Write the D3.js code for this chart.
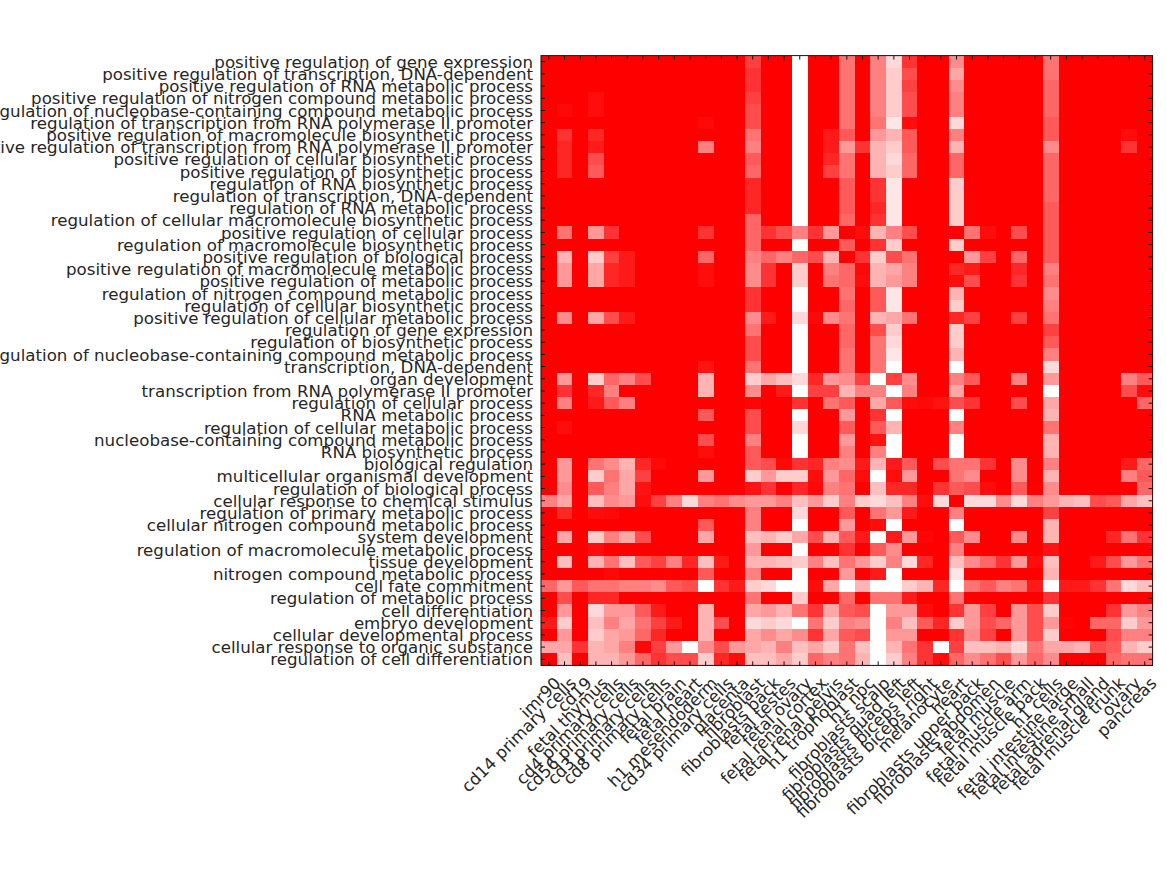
<!DOCTYPE html>
<html><head><meta charset="utf-8">
<script src="https://cdn.jsdelivr.net/npm/d3@7/dist/d3.min.js"></script>
<style>html,body{margin:0;padding:0;background:#fff;overflow:hidden}svg{display:block}
text{font-family:"DejaVu Sans";font-size:16.67px;fill:#262626}</style></head><body>
<svg id="c" width="1167" height="875"></svg>
<script>
const rowLabels=["positive regulation of gene expression","positive regulation of transcription, DNA-dependent","positive regulation of RNA metabolic process","positive regulation of nitrogen compound metabolic process","positive regulation of nucleobase-containing compound metabolic process","regulation of transcription from RNA polymerase II promoter","positive regulation of macromolecule biosynthetic process","positive regulation of transcription from RNA polymerase II promoter","positive regulation of cellular biosynthetic process","positive regulation of biosynthetic process","regulation of RNA biosynthetic process","regulation of transcription, DNA-dependent","regulation of RNA metabolic process","regulation of cellular macromolecule biosynthetic process","positive regulation of cellular process","regulation of macromolecule biosynthetic process","positive regulation of biological process","positive regulation of macromolecule metabolic process","positive regulation of metabolic process","regulation of nitrogen compound metabolic process","regulation of cellular biosynthetic process","positive regulation of cellular metabolic process","regulation of gene expression","regulation of biosynthetic process","regulation of nucleobase-containing compound metabolic process","transcription, DNA-dependent","organ development","transcription from RNA polymerase II promoter","regulation of cellular process","RNA metabolic process","regulation of cellular metabolic process","nucleobase-containing compound metabolic process","RNA biosynthetic process","biological regulation","multicellular organismal development","regulation of biological process","cellular response to chemical stimulus","regulation of primary metabolic process","cellular nitrogen compound metabolic process","system development","regulation of macromolecule metabolic process","tissue development","nitrogen compound metabolic process","cell fate commitment","regulation of metabolic process","cell differentiation","embryo development","cellular developmental process","cellular response to organic substance","regulation of cell differentiation"];
const colLabels=["imr90","cd14 primary cells","cd19","fetal thymus","cd4 primary cells","cd56 primary cells","cd3 primary cells","cd8 primary cells","fetal brain","fetal heart","h1 mesendoderm","cd34 primary cells","placenta","fibroblast","fibroblasts back","fetal testes","fetal ovary","fetal renal cortex","fetal renal pelvis","h1 trophoblast","h1 npc","fibroblasts scalp","fibroblasts quad left","fibroblasts biceps left","fibroblasts biceps right","melanocyte","heart","fibroblasts upper back","fibroblasts abdomen","fetal muscle","fetal muscle arm","fetal muscle back","h1 cells","fetal intestine large","fetal intestine small","fetal adrenal gland","fetal muscle trunk","ovary","pancreas"];
const values=[
[0,0,0,0,0,0,0,0,0,0,0,0,0,2.5,0,0,10,0,0,4.5,0,5,8.5,2,0,0,5.5,0,0,0,0,0,4.5,0,0,0,0,0,0],
[0,0,0,0,0,0,0,0,0,0,0,0,0,2,0,0,10,0,0,4.5,0,5,8,3,0,0,6.5,0,0,0,0,0,4.5,0,0,0,0,0,0],
[0,0,0,0,0,0,0,0,0,0,0,0,0,2,0,0,10,0,0,4.5,0,5,8,2.5,0,0,5.5,0,0,0,0,0,4,0,0,0,0,0,0],
[0,0,0,.5,0,0,0,0,0,0,0,0,0,2.5,0,0,10,0,0,4.5,0,5,8,3,0,0,5,0,0,0,0,0,4,0,0,0,0,0,0],
[0,.3,0,.5,0,0,0,0,0,0,0,0,0,3,0,0,10,0,0,4.5,0,5,8,3,0,0,5,0,0,0,0,0,4,0,0,0,0,0,0],
[0,0,0,0,0,0,0,0,0,0,.3,0,0,3,0,0,10,0,0,4.5,0,4.5,9,.5,0,0,8.5,0,0,0,0,0,3.5,0,0,0,0,0,0],
[0,2,0,1.5,0,0,0,0,0,0,0,0,0,4.5,0,0,10,0,1,3.5,0,6,7,3.5,0,0,5,0,0,0,0,0,3.5,0,0,0,0,.5,0],
[0,1.5,0,1,0,0,0,0,0,0,5,0,0,5,0,0,10,0,1,6,2,7,8,3.5,0,0,7,0,0,0,0,0,5.5,0,0,0,0,2,0],
[0,1.5,0,3,0,0,0,0,0,0,0,0,0,3.5,0,0,10,0,1.5,4.5,0,7,8.5,4,0,0,4,0,0,0,0,0,4,0,0,0,0,0,0],
[0,1.5,0,3.5,0,0,0,0,0,0,0,0,0,4,0,0,10,0,2.5,4.5,0,7,8,4,0,0,4,0,0,0,0,0,4,0,0,0,0,0,0],
[0,0,0,0,0,0,0,0,0,0,0,0,0,1.5,0,0,10,0,0,3.5,0,2,9,0,0,0,8,0,0,0,0,0,4,0,0,0,0,0,0],
[0,0,0,0,0,0,0,0,0,0,0,0,0,1.5,0,0,10,0,0,3.5,0,2,9,0,0,0,8,0,0,0,0,0,4,0,0,0,0,0,0],
[0,0,0,0,0,0,0,0,0,0,0,0,0,1.5,0,0,10,0,0,3.5,0,1.5,9,0,0,0,8,0,0,0,0,0,3.5,0,0,0,0,0,0],
[0,0,0,0,0,0,0,0,0,0,0,0,0,4,0,0,10,0,0,4,0,2,9,0,0,0,8,0,0,0,0,0,3.5,0,0,0,0,0,0],
[0,4.5,0,6,2,0,0,0,0,0,2,0,0,4,2,3,5,2,6,0,.5,7,5,3,0,0,0,4.5,.5,0,3,0,3.5,0,0,0,0,0,0],
[0,0,0,0,0,0,0,0,0,0,0,0,0,4,0,0,10,0,0,3.5,0,2,8,0,0,0,8,0,0,0,0,0,3.5,0,0,0,0,0,0],
[0,7,0,8,2.5,1,0,0,0,0,4,0,0,5,4,5,4,3,7,0,2,8,3,4.5,0,0,0,6,2.5,0,4,0,3.5,0,0,0,0,0,0],
[0,6,0,6.5,1.5,1,0,0,0,0,.5,0,0,5.5,2,0,8,0,5,4,.3,7,6.5,5,0,0,1.5,1,0,0,1.5,0,5,0,0,0,0,0,0],
[0,6,0,6.5,1.5,1,0,0,0,0,.5,0,0,5.5,2,0,8,0,4.5,4,.5,7,6,5,0,0,.5,3,0,0,2,0,4.5,0,0,0,0,0,0],
[0,0,0,0,0,0,0,0,0,0,0,0,0,2,0,0,10,0,0,4.5,0,3.5,9,0,0,0,7,0,0,0,0,0,5.5,0,0,0,0,0,0],
[0,0,0,0,0,0,0,0,0,0,0,0,0,2,0,0,10,0,0,4,0,3.5,9,0,0,0,8,0,0,0,0,0,5,0,0,0,0,0,0],
[0,5.5,0,6.5,3,1,0,0,0,0,0,0,0,5.5,1,0,8.5,.3,5.5,4.5,0,7,6.5,4.5,0,0,1.5,2.5,0,0,2.5,0,4.5,0,0,0,0,0,0],
[0,0,0,0,0,0,0,0,0,0,0,0,0,4.5,0,0,10,0,0,4,0,3,8,0,0,0,8,0,0,0,0,0,2.5,0,0,0,0,0,0],
[0,0,0,0,0,0,0,0,0,0,0,0,0,3,0,0,10,0,0,4,0,4.5,8.5,0,0,0,8,0,0,0,0,0,3.5,0,0,0,0,0,0],
[0,0,0,0,0,0,0,0,0,0,0,0,0,3,0,0,10,0,0,4.5,0,4.5,9,0,0,0,7,0,0,0,0,0,5,0,0,0,0,0,0],
[0,0,0,0,0,0,0,0,0,0,.8,0,0,4.5,0,0,10,0,0,4.5,0,4.5,10,0,0,0,10,0,0,0,0,0,8.5,0,0,0,0,0,0],
[0,6,0,8,4,5,3,0,0,0,7,0,0,8,6.5,7.5,8.5,1.5,6,5.5,2.5,10,2.5,5.5,0,0,5,3.5,0,0,5,0,6,0,0,0,0,5,3.5],
[0,2,0,1.5,5,0,0,0,0,0,7,0,0,5.5,0,1,10,2.5,2.5,7,5,5,10,5,0,0,6.5,0,0,0,0,0,10,0,0,0,0,3,.5],
[0,5,0,1,3.5,5,0,0,0,0,0,0,0,.2,0,0,2,0,4.5,3.5,0,6.5,3.5,.5,.3,.7,3,2,0,0,3,0,6.5,0,0,0,0,0,4],
[0,0,0,0,0,0,0,0,0,0,3.5,0,0,3,0,0,10,0,0,6,0,2,10,0,0,0,10,0,0,0,0,0,7,0,0,0,0,0,0],
[0,.5,0,0,0,0,0,0,0,0,0,0,0,3,0,0,8.5,0,0,3.5,0,3.5,7,0,0,0,5,0,0,0,0,0,4.5,0,0,0,0,0,0],
[0,0,0,0,0,0,0,0,0,0,3,0,0,5,0,0,10,0,0,6,0,.7,10,0,0,0,10,0,0,0,0,0,7,0,0,0,0,0,0],
[0,0,0,0,0,0,0,0,0,0,.5,0,0,3.5,0,0,10,0,0,5,0,5,10,0,0,0,10,0,0,0,0,0,7,0,0,0,0,0,0],
[0,6,0,4.5,5.5,7,1.5,.3,0,0,0,0,0,3.5,3,.3,2,1.5,5,5.5,1,7,1,3.5,0,3,4.5,4.5,2,0,5.5,0,5,0,0,0,0,1,4],
[0,6,0,8,4.5,6.5,2.5,0,0,0,6,0,0,8,6,8,8,.5,6,4,.5,10,.5,6,0,0,4.5,5.5,0,0,5.5,0,7,0,0,0,0,5,3.5],
[0,5.5,0,3.5,5,6.5,.7,0,0,0,0,0,0,.7,2,0,1.5,.3,5,4.5,0,7.5,1.5,1.5,0,2,3.5,3,.5,0,3.5,0,5.5,0,0,0,0,0,4],
[5,6.5,0,7.5,5.5,6,.5,2.5,5,8.5,5,4.5,5.5,6,6,5,7.5,6,8,5,8,8.5,7.5,5,.5,8.5,0,8.5,8.5,5.5,8.5,5,6,7,7.5,3,3.5,6.5,7.5],
[0,1.5,0,.5,.3,0,0,0,0,0,0,0,0,5,0,0,8.5,0,0,3.5,0,4.5,6,1,0,0,5,0,0,0,0,0,2.5,0,0,0,0,0,0],
[0,0,0,0,0,0,0,0,0,0,3.5,0,0,5,0,0,10,0,0,6,0,.5,10,0,0,0,10,0,0,0,0,0,7,0,0,0,0,0,0],
[0,6.5,0,8,5,6.5,3,0,0,0,6.5,0,0,7.5,7,8,6.5,3,7,3.5,1,10,1,6,.2,0,3.5,5.5,0,0,5.5,0,7,0,0,0,1.5,4.5,2],
[0,0,0,.5,0,0,0,0,0,0,0,0,0,6,0,0,10,0,0,2,0,3.5,5.5,0,0,0,5,0,0,0,0,0,.7,0,0,0,0,0,0],
[0,7.5,0,7,4.5,7.5,3.5,2.5,5,1.5,7.5,1,0,7,7,7.5,8,5,7.5,4.5,6,8,5,8.5,1.5,0,7.5,5.5,4,2,6,.5,7.5,0,0,1,3,6,4.5],
[0,0,0,0,.3,0,0,0,0,0,3.5,0,0,5,0,0,10,0,0,6,0,1,10,0,0,0,9,0,0,0,0,0,7,0,0,0,0,0,0],
[4,6,3.5,4.5,4.5,5,5,5.5,3.5,3,10,2,1,8,8.5,10,10,.5,6.5,10,7,10,10,8,7,1.5,10,4.5,3.5,5,4.5,1,10,1,1,2,4.5,8.5,7.5],
[0,3,0,1.5,1.5,0,0,0,0,0,0,0,0,4.5,0,0,8,0,0,4,0,4.5,4.5,1,0,0,4.5,0,0,0,0,0,2,0,0,0,0,0,0],
[0,6,0,8.5,6,6,3.5,1,0,0,7,0,0,6.5,6,7,4.5,2,6.5,3.5,3,10,6,6,.5,0,2,6,2.5,0,6,3,8,0,0,0,2,6,5],
[1,8,0,7.5,5,6.5,4.5,2.5,1,0,7,3,0,8.5,8,8.5,10,4.5,8,5,5.5,10,5,7.5,3.5,1.5,8,6,3,4,6,3,6,.2,0,4,4,8,6],
[0,6,0,8,6.5,6,4,1.5,0,0,7,0,0,6.5,5.5,6.5,5.5,2,6.5,3.5,3,10,6,6,0,0,2,5.5,2.5,0,6,3,8,0,0,0,3,5,5],
[6.5,6.5,2,7,6.5,5,.3,2.5,6,10,5.5,3,6,6.5,7,5,7.5,6.5,8,4.5,7.5,10,7,4.5,2,10,2.5,7.5,7.5,7,8.5,4.5,6.5,6.5,7,3,3.5,7,8],
[0,7.5,0,7,7,6,4,2,3,3,8,1.5,.5,7.5,7.5,6.5,8,4,5,4.5,7,10,8,5,2,.5,4,5.5,4.5,3,6,4,5.5,0,0,0,4,4.5,4.5]
];
const W=1167,H=875,L=541,R=1152.6,T=55.6,B=665.4;
const svg=d3.select("#c");
const x=d3.scaleBand().domain(d3.range(colLabels.length)).range([L,R]);
const y=d3.scaleBand().domain(d3.range(rowLabels.length)).range([T,B]);
const color=d3.scaleLinear().domain([0,10]).range(["#ff0000","#ffffff"]);
svg.append("g").selectAll("g").data(values).join("g").attr("transform",(d,i)=>`translate(0,${y(i)})`)
  .selectAll("rect").data(d=>d).join("rect")
  .attr("x",(d,i)=>x(i)).attr("width",x.bandwidth()+.4).attr("height",y.bandwidth()+.4)
  .attr("fill",d=>color(d)).attr("shape-rendering","crispEdges");
const tickStyle=g=>{g.select(".domain").remove();g.selectAll("line").attr("stroke","#111").attr("stroke-width",1);};
const yAxis=d3.axisLeft(y).tickSizeInner(-4).tickSizeOuter(0).tickPadding(8).tickFormat(i=>rowLabels[i]);
const yG=svg.append("g").attr("transform",`translate(${L},0)`).call(yAxis).call(tickStyle);
yG.attr("font-size",null).attr("font-family",null);
yG.selectAll("text").attr("dy",null).attr("y",0.6).attr("dominant-baseline","central");
svg.append("g").attr("transform",`translate(${R},0)`).call(d3.axisRight(y).tickSizeInner(-4).tickSizeOuter(0).tickFormat("")).call(tickStyle);
svg.append("g").attr("transform",`translate(0,${T})`).call(d3.axisTop(x).tickSizeInner(-4).tickSizeOuter(0).tickFormat("")).call(tickStyle);
const xG=svg.append("g").attr("transform",`translate(0,${B})`).call(d3.axisBottom(x).tickSizeInner(-4).tickSizeOuter(0).tickFormat(i=>colLabels[i])).call(tickStyle);
xG.attr("font-size",null).attr("font-family",null);
xG.selectAll("text").attr("text-anchor","end").attr("dy",null).attr("y",null).attr("dominant-baseline","central")
  .attr("transform","translate(9,15) rotate(-45)");
svg.append("rect").attr("x",L).attr("y",T).attr("width",R-L).attr("height",B-T).attr("fill","none").attr("stroke","#111").attr("stroke-width",1);
</script></body></html>
